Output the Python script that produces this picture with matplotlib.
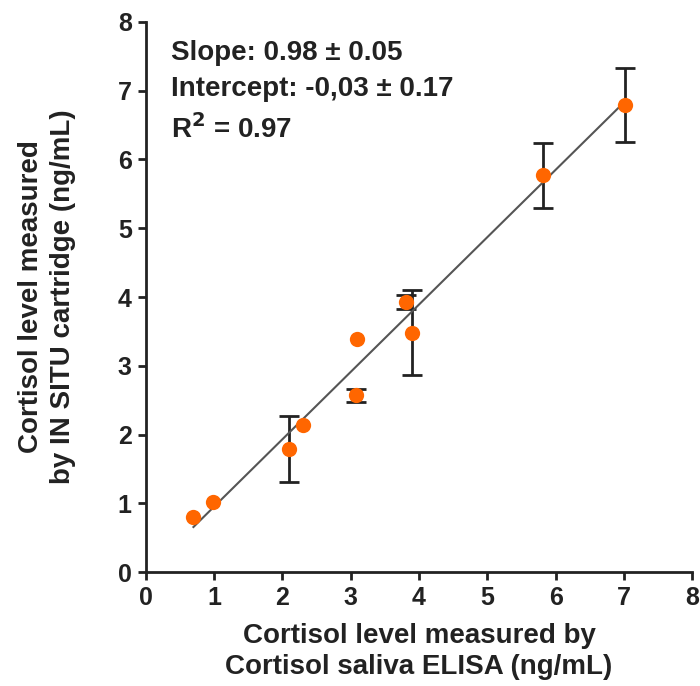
import matplotlib
matplotlib.use("Agg")
import matplotlib.pyplot as plt
import numpy as np

plt.rcParams['font.family'] = ['Liberation Sans', 'DejaVu Sans']
plt.rcParams['font.weight'] = 'bold'

x = [0.70, 0.99, 2.10, 2.31, 3.09, 3.08, 3.81, 3.90, 5.81, 7.01]
y = [0.80, 1.02, 1.79, 2.14, 3.39, 2.57, 3.93, 3.48, 5.77, 6.79]
yerr = [0.0, 0.0, 0.48, 0.0, 0.0, 0.10, 0.10, 0.62, 0.47, 0.54]
slope = 0.98
intercept = -0.03
fit_x = [0.70, 7.01]

fig = plt.figure(figsize=(7.0, 6.86), dpi=100)
ax = fig.add_axes([0.208, 0.166, 0.781, 0.802])

xa, ya, ea = np.array(x), np.array(y), np.array(yerr)
m = ea > 0
ax.errorbar(xa[m], ya[m], yerr=ea[m], fmt='none', ecolor='#222222', elinewidth=2,
            capsize=7, capthick=2, zorder=2)
fx = np.array(fit_x)
ax.plot(fx, slope * fx + intercept, color='#555555', lw=1.5, zorder=3)
ax.plot(xa, ya, 'o', color='#FF6600', markersize=11, zorder=4, markeredgewidth=0)

ax.set_xlim(0, 8)
ax.set_ylim(0, 8)
ax.set_xticks(range(0, 9))
ax.set_yticks(range(0, 9))
for s in ['top', 'right']:
    ax.spines[s].set_visible(False)
for s in ['left', 'bottom']:
    ax.spines[s].set_linewidth(2)
    ax.spines[s].set_color('#222222')
ax.tick_params(axis='both', direction='out', length=6, width=2, labelsize=18,
               colors='#222222', pad=4)

ax.set_xlabel('Cortisol level measured by\nCortisol saliva ELISA (ng/mL)',
              fontsize=20, fontweight='bold', color='#222222', labelpad=9,
              linespacing=1.25)
ax.set_ylabel('Cortisol level measured\nby IN SITU cartridge (ng/mL)',
              fontsize=20, fontweight='bold', color='#222222', labelpad=30,
              linespacing=1.3)

ax.text(0.047, 0.967, 'Slope: 0.98 \u00b1 0.05\nIntercept: -0,03 \u00b1 0.17\nR$^\\mathbf{2}$ = 0.97',
        transform=ax.transAxes, fontsize=20, fontweight='bold', va='top', ha='left',
        linespacing=1.5, color='#222222')

fig.savefig('out.png', dpi=100)
